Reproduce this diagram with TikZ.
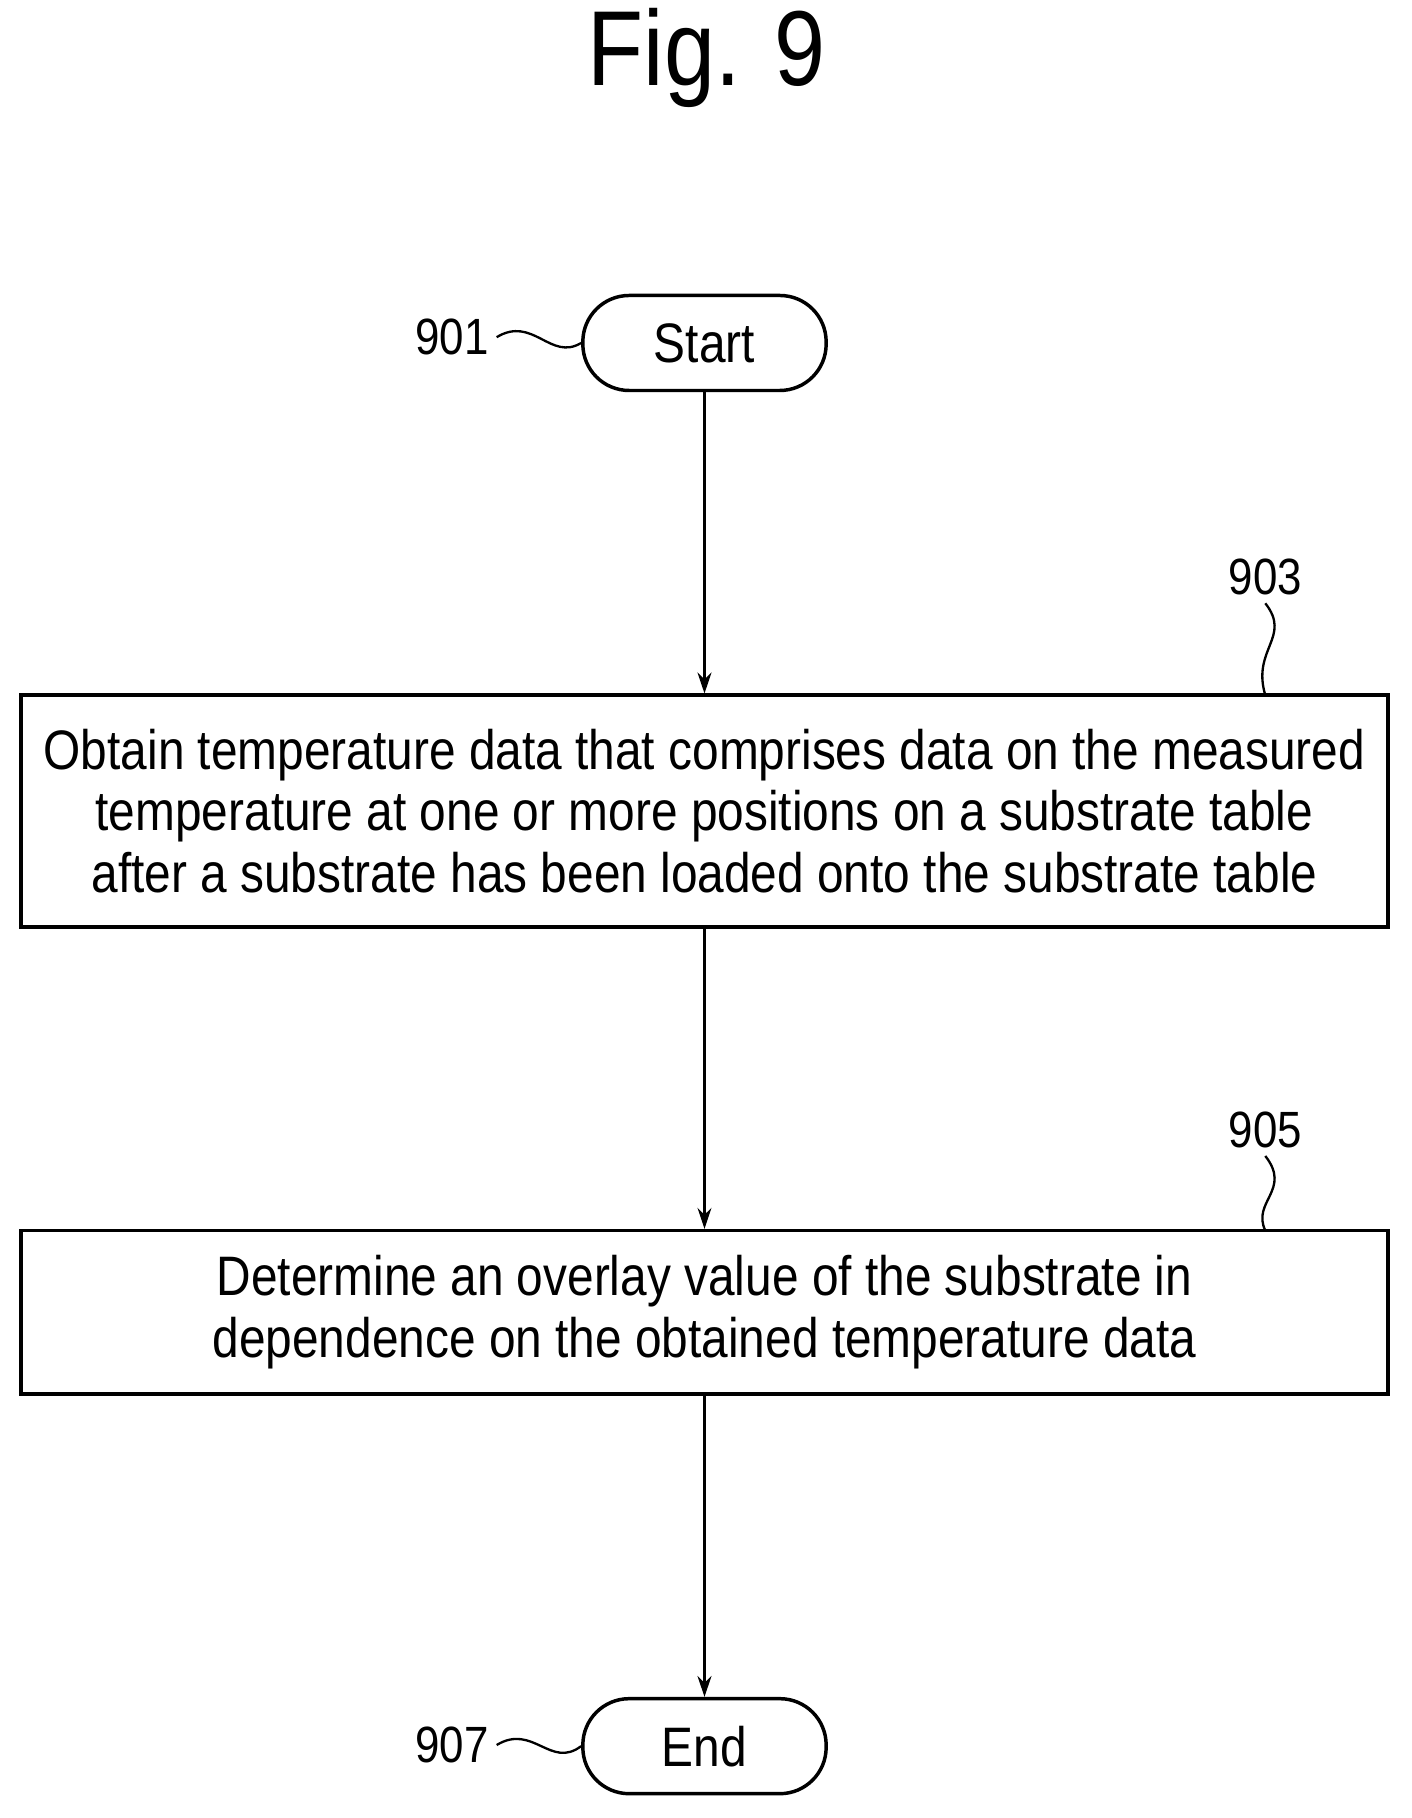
\documentclass[tikz,border=0pt]{standalone}
\usepackage{fontspec}
\setmainfont[FakeStretch=0.86]{Liberation Sans}
\usetikzlibrary{arrows.meta}
\begin{document}
\begin{tikzpicture}[x=0.5pt,y=-0.5pt,
  every node/.style={font=\fontsize{24}{26.5}\selectfont},
  term/.style={draw,line width=1.5pt,rounded corners=20pt,minimum width=105pt,minimum height=41pt,inner sep=0pt},
  stepbox/.style={draw,line width=1.5pt,minimum width=590pt,align=center,inner sep=0pt},
  flow/.style={line width=1.2pt,-{Stealth[length=9pt,width=6pt]}},
  lead/.style={line width=1pt},
  ref/.style={font=\fontsize{22}{24}\selectfont}]
\useasboundingbox (0,0) rectangle (1218,1569);
\node[font=\fontsize{46}{50}\selectfont] (fig) at (610,50) {Fig. 9};
\node[term] (start) at (608,296) {Start};
\node[stepbox,minimum height=100pt] (b903) at (608,700) {Obtain temperature data that comprises data on the measured\\temperature at one or more positions on a substrate table\\after a substrate has been loaded onto the substrate table};
\node[stepbox,minimum height=70.5pt] (b905) at (608,1132.5) {Determine an overlay value of the substrate in\\dependence on the obtained temperature data};
\node[term] (end) at (608,1507) {End};
\node[ref] (l901) at (390,291) {901};
\node[ref] (l903) at (1092,498) {903};
\node[ref] (l905) at (1092,975) {905};
\node[ref] (l907) at (390,1506) {907};
\draw[flow] (start) -- (b903);
\draw[flow] (b903) -- (b905);
\draw[flow] (b905) -- (end);
\draw[lead] (l901.east) .. controls (460,272) and (475,312) .. (start.west);
\draw[lead] (l907.east) .. controls (460,1487) and (475,1527) .. (end.west);
\coordinate (t903) at (1092,600);
\coordinate (t905) at (1092,1062);
\draw[lead] (l903.south) .. controls (1115,550) and (1080,560) .. (t903);
\draw[lead] (l905.south) .. controls (1115,1027) and (1080,1037) .. (t905);
\end{tikzpicture}
\end{document}
